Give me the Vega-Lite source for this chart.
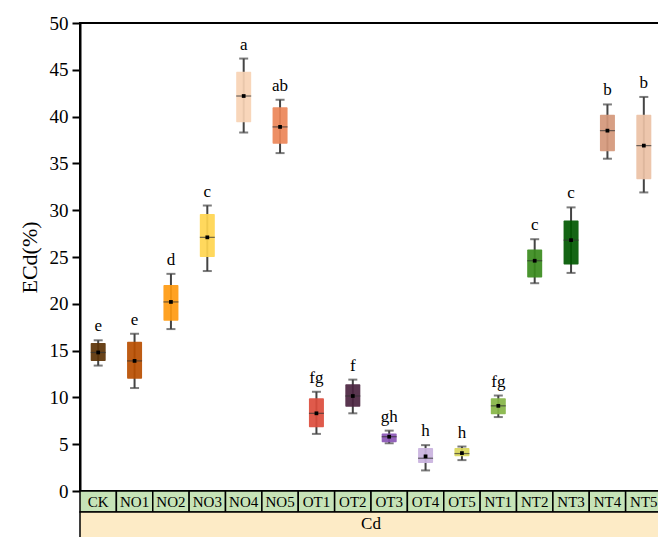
{
  "$schema": "https://vega.github.io/schema/vega-lite/v6.json",
  "padding": {"left": 17, "top": 13, "right": 0, "bottom": 0},
  "spacing": 0,
  "bounds": "flush",
  "background": "white",
  "config": {"font": "Times New Roman, Liberation Serif, DejaVu Serif, serif", "concat": {"spacing": 0}},
  "resolve": {"scale": {"x": "independent"}},
  "datasets": {
    "box": [
      {"cat": "CK", "lo": 13.4, "q1": 13.9, "med": 14.8, "q3": 15.8, "hi": 16.1, "mean": 14.8, "letter": "e"},
      {"cat": "NO1", "lo": 11.0, "q1": 12.0, "med": 13.9, "q3": 15.95, "hi": 16.8, "mean": 13.9, "letter": "e"},
      {"cat": "NO2", "lo": 17.3, "q1": 18.2, "med": 20.2, "q3": 22.0, "hi": 23.2, "mean": 20.2, "letter": "d"},
      {"cat": "NO3", "lo": 23.5, "q1": 25.0, "med": 27.1, "q3": 29.6, "hi": 30.5, "mean": 27.1, "letter": "c"},
      {"cat": "NO4", "lo": 38.3, "q1": 39.4, "med": 42.2, "q3": 44.8, "hi": 46.2, "mean": 42.2, "letter": "a"},
      {"cat": "NO5", "lo": 36.1, "q1": 37.1, "med": 38.9, "q3": 41.0, "hi": 41.8, "mean": 38.9, "letter": "ab"},
      {"cat": "OT1", "lo": 6.1, "q1": 6.8, "med": 8.3, "q3": 9.9, "hi": 10.6, "mean": 8.3, "letter": "fg"},
      {"cat": "OT2", "lo": 8.3, "q1": 9.0, "med": 10.15, "q3": 11.4, "hi": 11.9, "mean": 10.15, "letter": "f"},
      {"cat": "OT3", "lo": 5.1, "q1": 5.2, "med": 5.8, "q3": 6.15, "hi": 6.45, "mean": 5.8, "letter": "gh"},
      {"cat": "OT4", "lo": 2.2, "q1": 3.0, "med": 3.5, "q3": 4.6, "hi": 4.9, "mean": 3.7, "letter": "h"},
      {"cat": "OT5", "lo": 3.3, "q1": 3.7, "med": 4.0, "q3": 4.6, "hi": 4.75, "mean": 4.05, "letter": "h"},
      {"cat": "NT1", "lo": 7.9, "q1": 8.2, "med": 9.1, "q3": 9.9, "hi": 10.2, "mean": 9.1, "letter": "fg"},
      {"cat": "NT2", "lo": 22.2, "q1": 22.8, "med": 24.6, "q3": 25.8, "hi": 26.9, "mean": 24.6, "letter": "c"},
      {"cat": "NT3", "lo": 23.3, "q1": 24.2, "med": 26.8, "q3": 28.9, "hi": 30.3, "mean": 26.8, "letter": "c"},
      {"cat": "NT4", "lo": 35.5, "q1": 36.3, "med": 38.5, "q3": 40.2, "hi": 41.3, "mean": 38.5, "letter": "b"},
      {"cat": "NT5", "lo": 31.9, "q1": 33.3, "med": 36.9, "q3": 40.2, "hi": 42.1, "mean": 36.9, "letter": "b"}
    ]
  },
  "vconcat": [
    {
      "width": 582,
      "height": 468,
      "data": {"name": "box"},
      "view": {"stroke": "black", "strokeWidth": 2},
      "encoding": {
        "x": {
          "field": "cat", "type": "nominal", "sort": null,
          "scale": {"type": "band", "paddingInner": 0, "paddingOuter": 0},
          "axis": null
        }
      },
      "layer": [
        {
          "mark": {"type": "rule", "color": "#444444", "strokeWidth": 2},
          "encoding": {
            "y": {"field": "lo", "type": "quantitative",
              "scale": {"domain": [0, 50], "nice": false, "zero": true},
              "axis": {
                "title": "ECd(%)",
                "titleFontSize": 22, "titleFontWeight": "normal", "titleColor": "black", "titlePadding": 8,
                "values": [0, 2.5, 5, 7.5, 10, 12.5, 15, 17.5, 20, 22.5, 25, 27.5, 30, 32.5, 35, 37.5, 40, 42.5, 45, 47.5, 50],
                "labelExpr": "datum.value % 5 === 0 ? datum.label : ''",
                "labelFontSize": 19, "labelColor": "black", "labelPadding": 4,
                "tickSize": {"condition": {"test": "datum.value % 5 === 0", "value": 8}, "value": 5},
                "tickColor": "black", "tickWidth": 2,
                "domainColor": "black", "domainWidth": 2,
                "grid": false, "labelFlush": false
              }
            },
            "y2": {"field": "hi"}
          }
        },
        {
          "mark": {"type": "tick", "color": "#444444", "thickness": 2, "size": 9},
          "encoding": {"y": {"field": "hi", "type": "quantitative"}}
        },
        {
          "mark": {"type": "tick", "color": "#444444", "thickness": 2, "size": 9},
          "encoding": {"y": {"field": "lo", "type": "quantitative"}}
        },
        {
          "mark": {"type": "bar", "size": 15, "opacity": 0.92, "cornerRadius": 1},
          "encoding": {
            "y": {"field": "q1", "type": "quantitative"},
            "y2": {"field": "q3"},
            "color": {
              "field": "cat", "type": "nominal", "legend": null,
              "scale": {
                "domain": ["CK", "NO1", "NO2", "NO3", "NO4", "NO5", "OT1", "OT2", "OT3", "OT4", "OT5", "NT1", "NT2", "NT3", "NT4", "NT5"],
                "range": ["#5c3306", "#b94e00", "#ff9a10", "#ffd54f", "#f7d3b4", "#eb8658", "#dc4c3c", "#4b2440", "#8a55b5", "#c9b2de", "#d9d65a", "#86b545", "#3a8b1d", "#005800", "#d4977a", "#ecc1a5"]
              }
            }
          }
        },
        {
          "mark": {"type": "tick", "color": "#333333", "thickness": 1.2, "size": 15},
          "encoding": {"y": {"field": "med", "type": "quantitative"}}
        },
        {
          "mark": {"type": "square", "color": "black", "size": 14, "opacity": 1},
          "encoding": {"y": {"field": "mean", "type": "quantitative"}}
        },
        {
          "mark": {"type": "text", "fontSize": 17, "color": "black", "baseline": "alphabetic", "dy": -9},
          "encoding": {
            "y": {"field": "hi", "type": "quantitative"},
            "text": {"field": "letter"}
          }
        }
      ]
    },
    {
      "width": 582,
      "height": 21,
      "data": {"name": "box"},
      "view": {"stroke": null},
      "encoding": {
        "x": {
          "field": "cat", "type": "nominal", "sort": null,
          "scale": {"type": "band", "paddingInner": 0, "paddingOuter": 0},
          "axis": null
        }
      },
      "layer": [
        {
          "mark": {"type": "rect", "fill": "#c6e3b7", "stroke": "black", "strokeWidth": 1.5},
          "encoding": {}
        },
        {
          "mark": {"type": "text", "fontSize": 15, "color": "black"},
          "encoding": {"text": {"field": "cat"}}
        }
      ]
    },
    {
      "width": 582,
      "height": 30,
      "data": {"values": [{"g": "Cd"}]},
      "view": {"stroke": null},
      "encoding": {
        "x": {
          "field": "g", "type": "nominal",
          "scale": {"type": "band", "paddingInner": 0, "paddingOuter": 0},
          "axis": null
        }
      },
      "layer": [
        {
          "mark": {"type": "rect", "fill": "#fdebc6", "stroke": "black", "strokeWidth": 1.5},
          "encoding": {}
        },
        {
          "mark": {"type": "text", "fontSize": 17, "color": "black", "baseline": "middle", "dy": -3},
          "encoding": {"text": {"field": "g"}}
        }
      ]
    }
  ]
}
